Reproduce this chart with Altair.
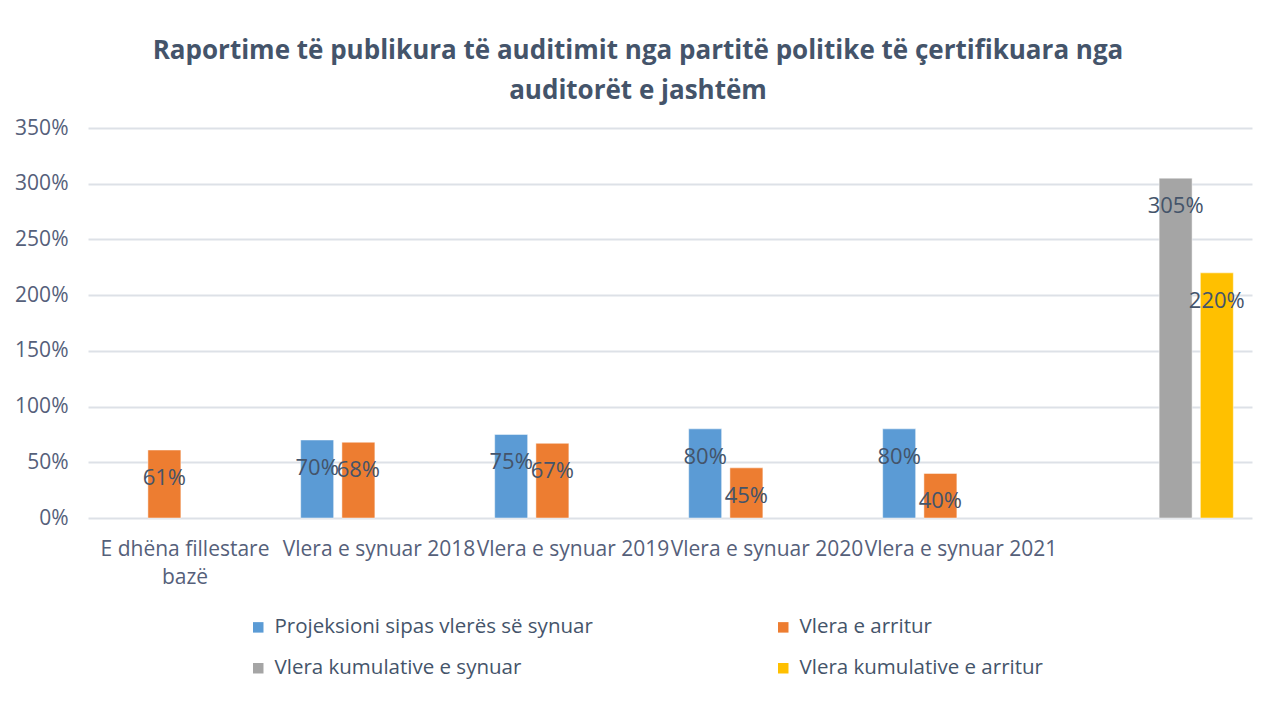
import altair as alt
import pandas as pd

categories = ["E dhëna fillestare bazë", "Vlera e synuar 2018", "Vlera e synuar 2019",
              "Vlera e synuar 2020", "Vlera e synuar 2021", " "]
series = ["Projeksioni sipas vlerës së synuar", "Vlera e arritur",
          "Vlera kumulative e synuar", "Vlera kumulative e arritur"]
colors = ["#5B9BD5", "#ED7D31", "#A5A5A5", "#FFC000"]

projected = [None, 0.70, 0.75, 0.80, 0.80, None]
achieved = [0.61, 0.68, 0.67, 0.45, 0.40, None]
cum_target = [None, None, None, None, None, 3.05]
cum_achieved = [None, None, None, None, None, 2.20]
y_ticks = [0, 0.5, 1.0, 1.5, 2.0, 2.5, 3.0, 3.5]

rows = []
for s, vals in zip(series, [projected, achieved, cum_target, cum_achieved]):
    for c, v in zip(categories, vals):
        if v is not None:
            rows.append({"cat": c, "series": s, "value": v})
df = pd.DataFrame(rows)

FONT = "Open Sans"
TXT = "#44546A"
AX = "#55607A"

base = alt.Chart(df).encode(
    x=alt.X("cat:N", sort=categories,
            scale=alt.Scale(domain=categories, paddingInner=0.15, paddingOuter=0.075),
            axis=alt.Axis(title=None, labelAngle=0, ticks=False, domain=False, grid=False,
                          labelPadding=20, labelFontSize=21, labelColor=AX,
                          labelFont=FONT, labelLimit=300, labelLineHeight=28,
                          labelExpr="datum.label == 'E dhëna fillestare bazë' ? ['E dhëna fillestare', 'bazë'] : datum.label")),
    xOffset=alt.XOffset("series:N",
                        scale=alt.Scale(domain=series, paddingInner=0.2, paddingOuter=0.1)),
    y=alt.Y("value:Q", scale=alt.Scale(domain=[0, 3.5], nice=False),
            axis=alt.Axis(title=None, values=y_ticks, format=".0%", ticks=False,
                          domain=False, labelPadding=20, labelFontSize=21,
                          labelColor=AX, labelFont=FONT,
                          gridColor="#DDE1E7", gridWidth=2)),
)

bars = base.mark_bar(stroke="#FFFFFF", strokeWidth=0.8, strokeOpacity=0.6).encode(
    color=alt.Color("series:N",
                    scale=alt.Scale(domain=series, range=colors),
                    legend=alt.Legend(title=None, orient="none", legendX=160, legendY=489,
                                      direction="horizontal", columns=2, gridAlign="all",
                                      columnPadding=180, rowPadding=20,
                                      symbolType="square", symbolSize=110,
                                      symbolStrokeWidth=0, labelFontSize=20.5,
                                      labelFont=FONT, labelColor=TXT, labelOffset=6,
                                      labelLimit=400))
)

labels = base.mark_text(dy=28, fontSize=22, color=TXT, font=FONT).encode(
    text=alt.Text("value:Q", format=".0%")
)

chart = alt.layer(bars, labels).properties(
    width=1164,
    height=390,
    background="white",
    padding={"left": 80, "top": 120, "right": 16, "bottom": 180},
    autosize=alt.AutoSizeParams(type="none"),
    title=alt.TitleParams(
        text=["Raportime të publikura  të auditimit  nga partitë politike të çertifikuara nga",
              "auditorët e jashtëm"],
        anchor="middle", dx=-32, offset=13, fontSize=26, fontWeight="bold",
        font=FONT, color=TXT, lineHeight=40),
).configure_view(stroke=None, strokeWidth=0)

chart.save("out.html", embed_options={"renderer": "svg", "actions": False})
